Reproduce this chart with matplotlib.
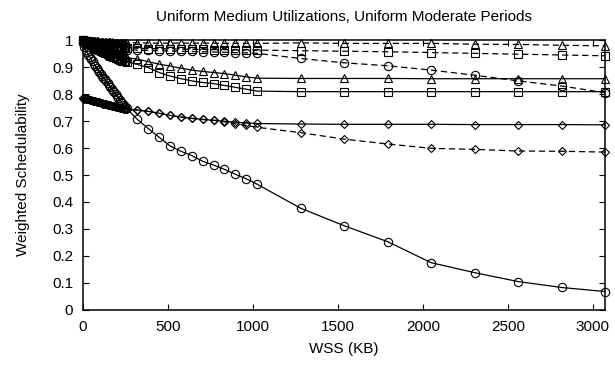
import matplotlib
matplotlib.use('Agg')
import matplotlib.pyplot as plt

plt.rcParams['font.family'] = ['Liberation Sans', 'DejaVu Sans']

# working set sizes (KB)
wss = [0, 8, 16, 24, 32, 40, 48, 56, 64, 72, 80, 88, 96, 104, 112, 120,
       128, 136, 144, 152, 160, 168, 176, 184, 192, 200, 208, 216, 224, 232, 240, 248,
       256, 320, 384, 448, 512, 576, 640, 704, 768, 832, 896, 960, 1024,
       1280, 1536, 1792, 2048, 2304, 2560, 2816, 3072]

# solid curves
tri_solid = [1.000, 0.997, 0.995, 0.993, 0.991, 0.989, 0.987, 0.985, 0.983, 0.981, 0.979, 0.977,
             0.975, 0.973, 0.971, 0.969, 0.967, 0.965, 0.963, 0.961, 0.959, 0.957, 0.955, 0.953,
             0.951, 0.949, 0.947, 0.945, 0.943, 0.941, 0.939, 0.937, 0.935,
             0.930, 0.920, 0.911, 0.904, 0.896, 0.889, 0.884, 0.880, 0.876, 0.870, 0.864, 0.859,
             0.858, 0.858, 0.858, 0.857, 0.857, 0.857, 0.857, 0.857]
sq_solid = [1.000, 0.996, 0.993, 0.990, 0.987, 0.984, 0.981, 0.978, 0.975, 0.972, 0.969, 0.966,
            0.964, 0.961, 0.958, 0.956, 0.953, 0.951, 0.948, 0.946, 0.943, 0.941, 0.938, 0.936,
            0.934, 0.932, 0.930, 0.928, 0.926, 0.924, 0.923, 0.921, 0.920,
            0.910, 0.898, 0.880, 0.867, 0.857, 0.849, 0.843, 0.839, 0.832, 0.825, 0.818, 0.811,
            0.809, 0.809, 0.809, 0.809, 0.809, 0.809, 0.809, 0.809]
circ_solid = [0.990, 0.975, 0.963, 0.955, 0.946, 0.937, 0.929, 0.921, 0.913, 0.905, 0.897, 0.890,
              0.882, 0.875, 0.868, 0.861, 0.855, 0.848, 0.841, 0.834, 0.827, 0.820, 0.813, 0.806,
              0.799, 0.792, 0.786, 0.779, 0.772, 0.766, 0.759, 0.753, 0.747,
              0.706, 0.672, 0.640, 0.608, 0.588, 0.572, 0.551, 0.537, 0.521, 0.503, 0.486, 0.466,
              0.377, 0.312, 0.253, 0.175, 0.138, 0.105, 0.083, 0.068]
dia_solid = [0.784, 0.783, 0.782, 0.781, 0.780, 0.778, 0.777, 0.776, 0.775, 0.773, 0.772, 0.771,
             0.769, 0.768, 0.767, 0.765, 0.764, 0.763, 0.761, 0.760, 0.759, 0.757, 0.756, 0.755,
             0.754, 0.752, 0.751, 0.750, 0.749, 0.747, 0.746, 0.745, 0.744,
             0.741, 0.736, 0.729, 0.721, 0.715, 0.710, 0.706, 0.703, 0.699, 0.696, 0.693, 0.691,
             0.689, 0.688, 0.688, 0.688, 0.687, 0.687, 0.687, 0.686]

# dashed curves
tri_dashed = [1.000, 0.999, 0.999, 0.998, 0.998, 0.997, 0.997, 0.996, 0.996, 0.995, 0.995, 0.995,
              0.994, 0.994, 0.994, 0.993, 0.993, 0.993, 0.992, 0.992, 0.992, 0.992, 0.991, 0.991,
              0.991, 0.991, 0.991, 0.990, 0.990, 0.990, 0.990, 0.990, 0.990,
              0.990, 0.989, 0.989, 0.989, 0.989, 0.989, 0.989, 0.989, 0.988, 0.988, 0.988, 0.988,
              0.990, 0.988, 0.988, 0.988, 0.985, 0.984, 0.981, 0.979]
sq_dashed = [1.000, 0.998, 0.997, 0.996, 0.995, 0.994, 0.993, 0.992, 0.991, 0.990, 0.989, 0.988,
             0.987, 0.986, 0.985, 0.984, 0.983, 0.982, 0.981, 0.980, 0.980, 0.979, 0.978, 0.977,
             0.977, 0.976, 0.975, 0.975, 0.974, 0.973, 0.973, 0.972, 0.972,
             0.970, 0.969, 0.968, 0.968, 0.967, 0.966, 0.966, 0.965, 0.965, 0.964, 0.964, 0.963,
             0.961, 0.959, 0.957, 0.954, 0.951, 0.948, 0.945, 0.942]
circ_dashed = [1.000, 0.998, 0.996, 0.995, 0.993, 0.992, 0.990, 0.989, 0.988, 0.986, 0.985, 0.984,
               0.983, 0.982, 0.981, 0.980, 0.979, 0.978, 0.977, 0.976, 0.975, 0.974, 0.973, 0.972,
               0.971, 0.970, 0.969, 0.968, 0.968, 0.967, 0.966, 0.966, 0.965,
               0.963, 0.962, 0.961, 0.960, 0.959, 0.958, 0.957, 0.956, 0.955, 0.954, 0.953, 0.951,
               0.932, 0.916, 0.905, 0.889, 0.870, 0.849, 0.830, 0.805]
dia_dashed = dia_solid[:41] + [0.697, 0.690, 0.684, 0.677,
                               0.657, 0.633, 0.615, 0.599, 0.595, 0.589, 0.588, 0.585]

series = [
    (tri_dashed, '^', '--'), (sq_dashed, 's', '--'), (circ_dashed, 'o', '--'), (dia_dashed, 'D', '--'),
    (tri_solid, '^', '-'), (sq_solid, 's', '-'), (circ_solid, 'o', '-'), (dia_solid, 'D', '-'),
]
msize = {'^': 6, 's': 6, 'o': 6, 'D': 4.5}

fig = plt.figure(figsize=(6.15, 3.65), dpi=100)
ax = fig.add_axes([0.135, 0.151, 0.849, 0.739])

for ys, mk, ls in series:
    style = (0, (5, 3)) if ls == '--' else '-'
    ax.plot(wss, ys, color='black', linestyle=style, linewidth=0.9,
            marker=mk, markersize=msize[mk], markerfacecolor='none',
            markeredgecolor='black', markeredgewidth=0.8, clip_on=False)

ax.set_xlim(0, 3072)
ax.set_ylim(0, 1)
ax.set_xticks([0, 500, 1000, 1500, 2000, 2500, 3000])
ax.set_yticks([0, 0.1, 0.2, 0.3, 0.4, 0.5, 0.6, 0.7, 0.8, 0.9, 1])
ax.set_yticklabels(['0', '0.1', '0.2', '0.3', '0.4', '0.5', '0.6', '0.7', '0.8', '0.9', '1'])
ax.tick_params(direction='in', top=True, right=True, length=4, width=0.8,
               labelsize=11, pad=7)
for sp in ax.spines.values():
    sp.set_linewidth(1.1)

ax.set_title('Uniform Medium Utilizations, Uniform Moderate Periods', fontsize=11, pad=14)
ax.set_xlabel('WSS (KB)', fontsize=11, labelpad=6)
ax.set_ylabel('Weighted Schedulability', fontsize=11, labelpad=16)

fig.savefig('out.png', dpi=100)
